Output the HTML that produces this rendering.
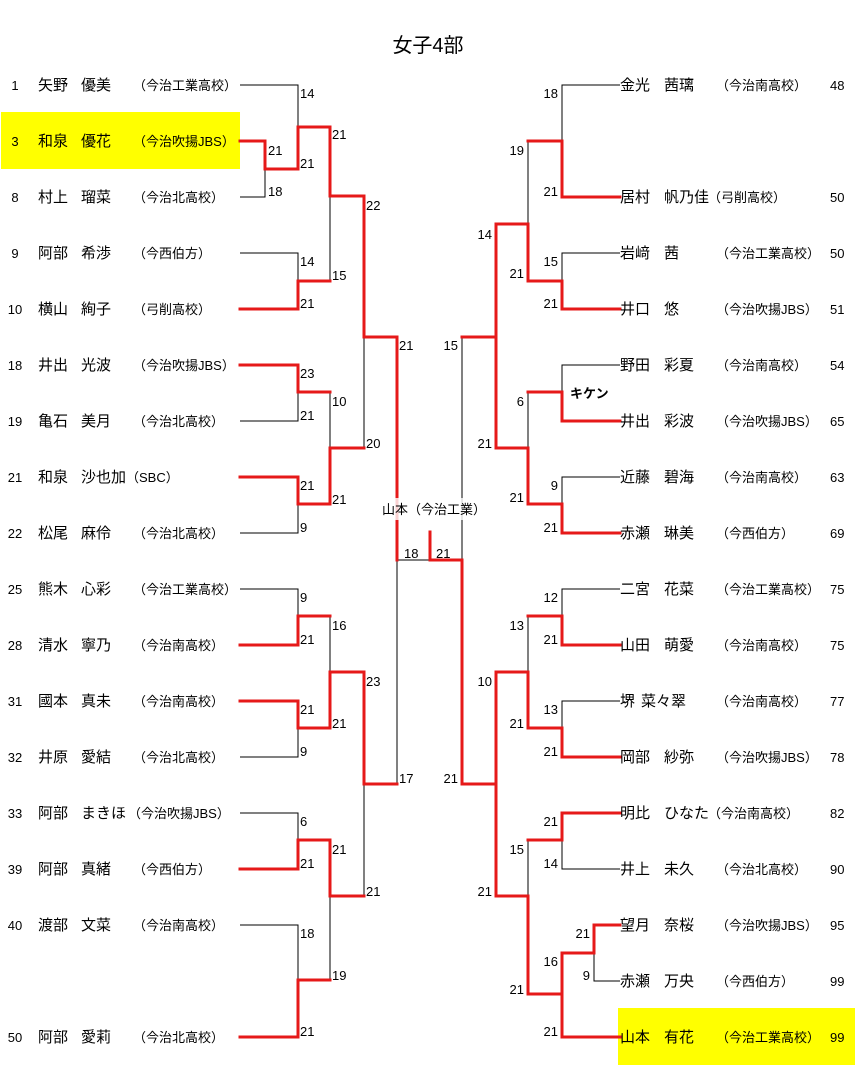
<!DOCTYPE html>
<html><head><meta charset="utf-8"><style>
html,body{margin:0;padding:0;background:#fff;}
svg{display:block;}
text{font-family:"Liberation Sans","Noto Sans CJK JP",sans-serif;fill:#000;}
.n{font-size:15px;}
.s{font-size:13px;}
.c{font-size:13px;}
.sc{font-size:13px;}
</style></head><body>
<svg width="855" height="1065" viewBox="0 0 855 1065" xmlns="http://www.w3.org/2000/svg">
<rect x="1" y="112" width="239" height="57" fill="#ffff00"/>
<rect x="618" y="1008" width="237" height="57" fill="#ffff00"/>
<text x="428" y="52" font-size="20" text-anchor="middle">女子4部</text>

<g fill="none" stroke="#000" stroke-width="1">
<path d="M240 85H298V127"/>
<path d="M240 197H265V169"/>
<path d="M240 253H298V281"/>
<path d="M330 196V280"/>
<path d="M240 421H298V392"/>
<path d="M240 533H298V504"/>
<path d="M330 392V448"/>
<path d="M364 337V448"/>
<path d="M240 589H298V616"/>
<path d="M240 757H298V728"/>
<path d="M330 616V672"/>
<path d="M240 813H298V840"/>
<path d="M240 925H298V980"/>
<path d="M330 896V980"/>
<path d="M364 784V896"/>
<path d="M397 560V784"/>
<path d="M397 560H430"/>
<path d="M462 337V560"/>
<path d="M620 85H562V141"/>
<path d="M620 253H562V281"/>
<path d="M528 141V224"/>
<path d="M620 365H562V392"/>
<path d="M620 477H562V504"/>
<path d="M528 392V448"/>
<path d="M496 224V337"/>
<path d="M620 589H562V616"/>
<path d="M620 701H562V728"/>
<path d="M528 616V672"/>
<path d="M620 869H562V840"/>
<path d="M620 981H594V953"/>
<path d="M562 953V994"/>
<path d="M528 840V896"/>
<path d="M496 672V784"/>
</g>
<g fill="none" stroke="#e61919" stroke-width="3" stroke-linejoin="miter" stroke-linecap="square">
<path d="M240 141H265V169H298V127H330V196H364V337H397V560"/>
<path d="M240 309H298V281H330"/>
<path d="M240 365H298V392H330"/>
<path d="M240 477H298V504H330V448H364"/>
<path d="M240 645H298V616H330"/>
<path d="M240 701H298V728H330V672H364V784H397"/>
<path d="M240 869H298V840H330V896H364"/>
<path d="M240 1037H298V980H330"/>
<path d="M430 532V560H462V784H496V896H528V994H562V1037H620"/>
<path d="M620 197H562V141H528"/>
<path d="M620 309H562V281H528V224H496V337H462"/>
<path d="M620 421H562V392H528"/>
<path d="M620 533H562V504H528V448H496V337"/>
<path d="M620 645H562V616H528"/>
<path d="M620 757H562V728H528V672H496V784"/>
<path d="M620 813H562V840H528"/>
<path d="M620 925H594V953H562V994"/>
</g>
<rect x="382" y="498" width="106" height="22" fill="#fff" opacity="0.8"/>
<text x="434" y="514" class="c" text-anchor="middle">山本（今治工業）</text>

<g class="sc">
<text x="268" y="155">21</text><text x="268" y="196">18</text>
<text x="300" y="98">14</text><text x="300" y="168">21</text>
<text x="300" y="266">14</text><text x="300" y="308">21</text>
<text x="332" y="139">21</text><text x="332" y="280">15</text>
<text x="366" y="210">22</text><text x="366" y="448">20</text>
<text x="399" y="350">21</text>
<text x="300" y="378">23</text><text x="300" y="420">21</text>
<text x="332" y="406">10</text><text x="332" y="504">21</text>
<text x="300" y="490">21</text><text x="300" y="532">9</text>
<text x="300" y="602">9</text><text x="300" y="644">21</text>
<text x="332" y="630">16</text><text x="332" y="728">21</text>
<text x="300" y="714">21</text><text x="300" y="756">9</text>
<text x="366" y="686">23</text><text x="366" y="896">21</text>
<text x="399" y="783">17</text>
<text x="300" y="826">6</text><text x="300" y="868">21</text>
<text x="332" y="854">21</text><text x="332" y="980">19</text>
<text x="300" y="938">18</text><text x="300" y="1036">21</text>
<text x="404" y="558">18</text><text x="436" y="558">21</text>
</g>
<g class="sc" text-anchor="end">
<text x="558" y="98">18</text><text x="558" y="196">21</text>
<text x="524" y="155">19</text><text x="524" y="278">21</text>
<text x="558" y="266">15</text><text x="558" y="308">21</text>
<text x="492" y="239">14</text><text x="492" y="448">21</text>
<text x="458" y="350">15</text>
<text x="524" y="406">6</text>
<text x="558" y="490">9</text><text x="558" y="532">21</text>
<text x="524" y="502">21</text>
<text x="558" y="602">12</text><text x="558" y="644">21</text>
<text x="524" y="630">13</text><text x="524" y="728">21</text>
<text x="558" y="714">13</text><text x="558" y="756">21</text>
<text x="492" y="686">10</text><text x="492" y="896">21</text>
<text x="458" y="783">21</text>
<text x="558" y="826">21</text><text x="558" y="868">14</text>
<text x="524" y="854">15</text><text x="524" y="994">21</text>
<text x="590" y="938">21</text><text x="590" y="980">9</text>
<text x="558" y="966">16</text><text x="558" y="1036">21</text>
</g>
<text x="570" y="398" font-size="13" font-weight="bold">キケン</text>

<g class="n">
<text x="15" y="90" text-anchor="middle" font-size="13">1</text><text x="38" y="90">矢野</text><text x="81" y="90">優美</text><text x="133" y="90" class="s">（今治工業高校）</text>
<text x="15" y="146" text-anchor="middle" font-size="13">3</text><text x="38" y="146">和泉</text><text x="81" y="146">優花</text><text x="133" y="146" class="s">（今治吹揚JBS）</text>
<text x="15" y="202" text-anchor="middle" font-size="13">8</text><text x="38" y="202">村上</text><text x="81" y="202">瑠菜</text><text x="133" y="202" class="s">（今治北高校）</text>
<text x="15" y="258" text-anchor="middle" font-size="13">9</text><text x="38" y="258">阿部</text><text x="81" y="258">希渉</text><text x="133" y="258" class="s">（今西伯方）</text>
<text x="15" y="314" text-anchor="middle" font-size="13">10</text><text x="38" y="314">横山</text><text x="81" y="314">絢子</text><text x="133" y="314" class="s">（弓削高校）</text>
<text x="15" y="370" text-anchor="middle" font-size="13">18</text><text x="38" y="370">井出</text><text x="81" y="370">光波</text><text x="133" y="370" class="s">（今治吹揚JBS）</text>
<text x="15" y="426" text-anchor="middle" font-size="13">19</text><text x="38" y="426">亀石</text><text x="81" y="426">美月</text><text x="133" y="426" class="s">（今治北高校）</text>
<text x="15" y="482" text-anchor="middle" font-size="13">21</text><text x="38" y="482">和泉</text><text x="81" y="482">沙也加</text><text x="126" y="482" class="s">（SBC）</text>
<text x="15" y="538" text-anchor="middle" font-size="13">22</text><text x="38" y="538">松尾</text><text x="81" y="538">麻伶</text><text x="133" y="538" class="s">（今治北高校）</text>
<text x="15" y="594" text-anchor="middle" font-size="13">25</text><text x="38" y="594">熊木</text><text x="81" y="594">心彩</text><text x="133" y="594" class="s">（今治工業高校）</text>
<text x="15" y="650" text-anchor="middle" font-size="13">28</text><text x="38" y="650">清水</text><text x="81" y="650">寧乃</text><text x="133" y="650" class="s">（今治南高校）</text>
<text x="15" y="706" text-anchor="middle" font-size="13">31</text><text x="38" y="706">國本</text><text x="81" y="706">真未</text><text x="133" y="706" class="s">（今治南高校）</text>
<text x="15" y="762" text-anchor="middle" font-size="13">32</text><text x="38" y="762">井原</text><text x="81" y="762">愛結</text><text x="133" y="762" class="s">（今治北高校）</text>
<text x="15" y="818" text-anchor="middle" font-size="13">33</text><text x="38" y="818">阿部</text><text x="81" y="818">まきほ</text><text x="128" y="818" class="s">（今治吹揚JBS）</text>
<text x="15" y="874" text-anchor="middle" font-size="13">39</text><text x="38" y="874">阿部</text><text x="81" y="874">真緒</text><text x="133" y="874" class="s">（今西伯方）</text>
<text x="15" y="930" text-anchor="middle" font-size="13">40</text><text x="38" y="930">渡部</text><text x="81" y="930">文菜</text><text x="133" y="930" class="s">（今治南高校）</text>
<text x="15" y="1042" text-anchor="middle" font-size="13">50</text><text x="38" y="1042">阿部</text><text x="81" y="1042">愛莉</text><text x="133" y="1042" class="s">（今治北高校）</text>
</g>
<g class="n">
<text x="620" y="90">金光</text><text x="664" y="90">茜璃</text><text x="716" y="90" class="s">（今治南高校）</text><text x="830" y="90" font-size="13">48</text>
<text x="620" y="202">居村</text><text x="664" y="202">帆乃佳</text><text x="708" y="202" class="s">（弓削高校）</text><text x="830" y="202" font-size="13">50</text>
<text x="620" y="258">岩﨑</text><text x="664" y="258">茜</text><text x="716" y="258" class="s">（今治工業高校）</text><text x="830" y="258" font-size="13">50</text>
<text x="620" y="314">井口</text><text x="664" y="314">悠</text><text x="716" y="314" class="s">（今治吹揚JBS）</text><text x="830" y="314" font-size="13">51</text>
<text x="620" y="370">野田</text><text x="664" y="370">彩夏</text><text x="716" y="370" class="s">（今治南高校）</text><text x="830" y="370" font-size="13">54</text>
<text x="620" y="426">井出</text><text x="664" y="426">彩波</text><text x="716" y="426" class="s">（今治吹揚JBS）</text><text x="830" y="426" font-size="13">65</text>
<text x="620" y="482">近藤</text><text x="664" y="482">碧海</text><text x="716" y="482" class="s">（今治南高校）</text><text x="830" y="482" font-size="13">63</text>
<text x="620" y="538">赤瀬</text><text x="664" y="538">琳美</text><text x="716" y="538" class="s">（今西伯方）</text><text x="830" y="538" font-size="13">69</text>
<text x="620" y="594">二宮</text><text x="664" y="594">花菜</text><text x="716" y="594" class="s">（今治工業高校）</text><text x="830" y="594" font-size="13">75</text>
<text x="620" y="650">山田</text><text x="664" y="650">萌愛</text><text x="716" y="650" class="s">（今治南高校）</text><text x="830" y="650" font-size="13">75</text>
<text x="620" y="706">堺</text><text x="641" y="706">菜々翠</text><text x="716" y="706" class="s">（今治南高校）</text><text x="830" y="706" font-size="13">77</text>
<text x="620" y="762">岡部</text><text x="664" y="762">紗弥</text><text x="716" y="762" class="s">（今治吹揚JBS）</text><text x="830" y="762" font-size="13">78</text>
<text x="620" y="818">明比</text><text x="664" y="818">ひなた</text><text x="708" y="818" class="s">（今治南高校）</text><text x="830" y="818" font-size="13">82</text>
<text x="620" y="874">井上</text><text x="664" y="874">未久</text><text x="716" y="874" class="s">（今治北高校）</text><text x="830" y="874" font-size="13">90</text>
<text x="620" y="930">望月</text><text x="664" y="930">奈桜</text><text x="716" y="930" class="s">（今治吹揚JBS）</text><text x="830" y="930" font-size="13">95</text>
<text x="620" y="986">赤瀬</text><text x="664" y="986">万央</text><text x="716" y="986" class="s">（今西伯方）</text><text x="830" y="986" font-size="13">99</text>
<text x="620" y="1042">山本</text><text x="664" y="1042">有花</text><text x="716" y="1042" class="s">（今治工業高校）</text><text x="830" y="1042" font-size="13">99</text>
</g>
</svg>
</body></html>
